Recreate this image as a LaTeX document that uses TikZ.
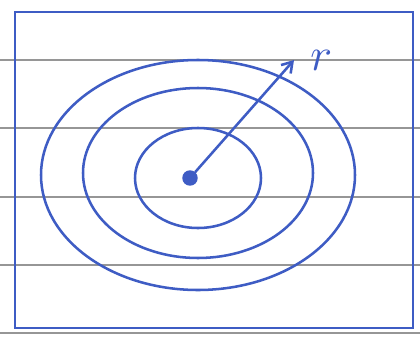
\documentclass[tikz,border=0pt]{standalone}
\usepackage{tikz}
\usetikzlibrary{positioning, arrows.meta}
\definecolor{tinta}{RGB}{62,92,196}
\definecolor{pauta}{RGB}{150,150,150}
\begin{document}
\begin{tikzpicture}[x=0.025cm, y=-0.025cm,
    caneta/.style={draw=tinta, line width=1.8pt, line cap=round},
    linha/.style={draw=pauta, line width=0.8pt},
    seta/.style={caneta, -{Straight Barb[length=2.5mm, width=3.2mm]}},
    rot/.style={text=tinta, font=\huge, scale=1.6}
]
\useasboundingbox (0,0) rectangle (420,336);
\fill[white] (0,0) rectangle (420,336);
% pauta do caderno
\foreach \y in {60,128,197,265,333}
    \draw[linha] (0,\y) -- (420,\y);
% moldura
\draw[caneta] (15,12) rectangle (413,328);
% curvas de nivel
\draw[caneta] (198,178) ellipse [x radius=63, y radius=50];
\draw[caneta] (198,173) ellipse [x radius=115, y radius=85];
\draw[caneta] (198,175) ellipse [x radius=157, y radius=115];
% centro e raio
\node[circle, fill=tinta, inner sep=0pt, minimum size=11pt] (centro) at (190,178) {};
\coordinate (ponta) at (294,60);
\draw[seta] (centro) -- (ponta);
\node[rot, right=6pt of ponta] (raio) {$r$};
\end{tikzpicture}
\end{document}
